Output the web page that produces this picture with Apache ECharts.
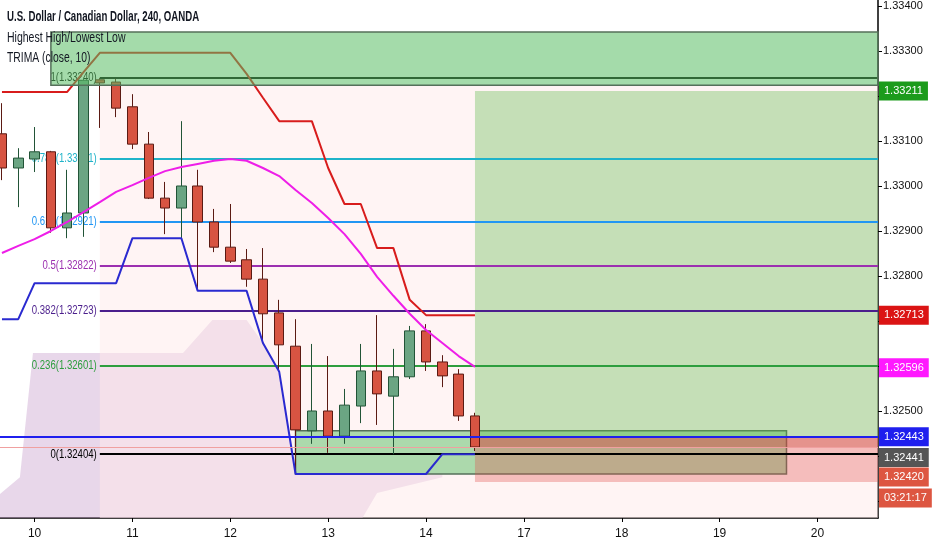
<!DOCTYPE html>
<html>
<head>
<meta charset="utf-8">
<script src="https://cdn.jsdelivr.net/npm/echarts@6/dist/echarts.min.js"></script>
<style>
  html, body { margin: 0; padding: 0; background: #fff; }
  #main { width: 932px; height: 550px; }
</style>
</head>
<body>
<div id="main"></div>
<script>
const FONT = '"Liberation Sans", Arial, sans-serif';

// 4h candles, x = bar number (bar 2 = day 10 00:00)
const candleOpen  = [1.33116,1.33040,1.33060,1.33076,1.32907,1.32940,1.33236,1.33231,1.33176,1.33093,1.32973,1.32951,1.33000,1.32920,1.32864,1.32836,1.32793,1.32718,1.32644,1.32456,1.32500,1.32444,1.32511,1.32589,1.32533,1.32576,1.32678,1.32609,1.32582,1.32489];
const candleClose = [1.33040,1.33062,1.33076,1.32907,1.32940,1.33235,1.33229,1.33173,1.33093,1.32973,1.32951,1.33000,1.32920,1.32864,1.32833,1.32793,1.32716,1.32647,1.32458,1.32500,1.32444,1.32513,1.32589,1.32538,1.32576,1.32678,1.32609,1.32578,1.32489,1.32420];
const candleLow   = [1.33013,1.32953,1.33031,1.32896,1.32884,1.32887,1.33129,1.33153,1.33082,1.32971,1.32893,1.32884,1.32769,1.32853,1.32829,1.32776,1.32651,1.32587,1.32360,1.32427,1.32407,1.32427,1.32473,1.32469,1.32404,1.32571,1.32589,1.32553,1.32478,1.32411];
const candleHigh  = [1.33184,1.33084,1.33131,1.33078,1.33036,1.33240,1.33240,1.33238,1.33204,1.33120,1.33009,1.33144,1.33036,1.32949,1.32960,1.32860,1.32862,1.32747,1.32704,1.32649,1.32622,1.32549,1.32649,1.32713,1.32638,1.32689,1.32693,1.32624,1.32593,1.32496];

// indicators
const highestHigh = [1.33209,1.33209,1.33209,1.33209,1.33209,1.33253,1.33296,1.33296,1.33296,1.33296,1.33296,1.33296,1.33296,1.33296,1.33296,1.33249,1.33196,1.33144,1.33144,1.33144,1.33040,1.32960,1.32960,1.32862,1.32862,1.32747,1.32713,1.32713,1.32713,1.32713];
const lowestLow   = [1.32704,1.32704,1.32784,1.32784,1.32784,1.32784,1.32784,1.32784,1.32884,1.32884,1.32884,1.32884,1.32767,1.32767,1.32767,1.32767,1.32651,1.32587,1.32360,1.32360,1.32360,1.32360,1.32360,1.32360,1.32360,1.32360,1.32360,1.32404,1.32404,1.32404];
const trima       = [1.32851,1.32867,1.32882,1.32900,1.32920,1.32942,1.32964,1.32987,1.33002,1.33018,1.33033,1.33042,1.33049,1.33056,1.33060,1.33056,1.33040,1.33022,1.32991,1.32962,1.32929,1.32893,1.32849,1.32798,1.32756,1.32716,1.32680,1.32651,1.32622,1.32598];

// fibonacci retracement
const fibRatios = ['1', '0.786', '0.618', '0.5', '0.382', '0.236', '0'];
const fibPrices = [1.33240, 1.33061, 1.32921, 1.32822, 1.32723, 1.32601, 1.32404];
const fibColors = ['#000000', '#1fb3c9', '#2196f3', '#9c2fb0', '#4b1e8c', '#2e9e3e', '#000000'];
const fibStartBar = 6;

// axis
const xMin = -0.12, xMax = 53.71;
const yMin = 1.322622, yMax = 1.334133;
const dayTicks  = [2, 8, 14, 20, 26, 32, 38, 44, 50];
const dayLabels = ['10', '11', '12', '13', '14', '17', '18', '19', '20'];
const priceLabels = [1.334, 1.333, 1.331, 1.330, 1.329, 1.328, 1.327, 1.325];
const priceTicks  = [1.323, 1.324, 1.325, 1.326, 1.327, 1.328, 1.329, 1.330, 1.331, 1.332, 1.333, 1.334];

// drawings (bar, price)
const rangeBoxTop    = [[3, 1.33342], [xMax, 1.33224]];
const rangeBoxBottom = [[18, 1.32456], [48.1, 1.32360]];
const paleZone       = [[6, 1.33224], [xMax, yMin]];
const entryPrice = 1.32443, targetPrice = 1.33211, stopPrice = 1.32342, lastPrice = 1.32420;
const positionStartBar = 29;
const cloudPoints = [[-0.2, 1.32313], [1.1, 1.32353], [1.9, 1.32629], [11.1, 1.32629], [12.9, 1.32702], [15.0, 1.32702], [16.0, 1.32651], [17.0, 1.32587], [18.0, 1.32360], [27.0, 1.32360], [27.0, 1.32353], [23.0, 1.32318], [22.1, yMin], [-0.2, yMin]];

// price tags on the right scale
const tagValues = [1.33211, 1.32713, 1.32596, 1.32443, 1.32441, 1.32420, 1.32420];
const tagTexts  = ['1.33211', '1.32713', '1.32596', '1.32443', '1.32441', '1.32420', '03:21:17'];
const tagColors = ['#1c9b1c', '#db1414', '#ff19ff', '#1f1fee', '#555555', '#dd5641', '#dd5641'];
const tagShift  = [0, 0, 0, 0, 20, 30, 51];

const chart = echarts.init(document.getElementById('main'));

const candleData = candleOpen.map((o, i) => [i, o, candleClose[i], candleLow[i], candleHigh[i]]);
const toXY = arr => arr.map((v, i) => [i, v]);

function box(pts, style) {
  return [{ coord: pts[0], itemStyle: style }, { coord: pts[1] }];
}

// narrow text like the tradingview font
function headerText(text, y, bold, sx) {
  return {
    type: 'text', x: 7, y: y, scaleX: sx, z: 100,
    style: { text: text, font: (bold ? 'bold ' : '') + '14px ' + FONT, fill: '#131722', verticalAlign: 'middle' }
  };
}

chart.setOption({
  animation: false,
  backgroundColor: '#ffffff',
  grid: { left: 0, right: 54, top: 0, bottom: 32 },
  xAxis: {
    type: 'value',
    min: xMin,
    max: xMax,
    axisLine: { onZero: false, lineStyle: { color: '#000', width: 1.5 } },
    axisTick: { customValues: dayTicks, length: 4, lineStyle: { color: '#000' } },
    axisLabel: {
      customValues: dayTicks,
      color: '#111',
      fontFamily: FONT,
      fontSize: 12,
      margin: 10,
      formatter: v => dayLabels[dayTicks.indexOf(v)]
    },
    splitLine: { show: false }
  },
  yAxis: {
    type: 'value',
    position: 'right',
    min: yMin,
    max: yMax,
    axisLine: { show: true, onZero: false, lineStyle: { color: '#000', width: 1.5 } },
    axisTick: { show: true, customValues: priceTicks, length: 4, lineStyle: { color: '#000' } },
    axisLabel: {
      customValues: priceLabels,
      color: '#111',
      fontFamily: FONT,
      fontSize: 11,
      margin: 5,
      formatter: v => v.toFixed(5)
    },
    splitLine: { show: false }
  },
  graphic: [
    headerText('U.S. Dollar / Canadian Dollar, 240, OANDA', 17, true, 0.69),
    headerText('Highest High/Lowest Low', 38, false, 0.75),
    headerText('TRIMA (close, 10)', 58, false, 0.74)
  ],
  series: [
    { // faint cloud
      type: 'custom',
      z: 1,
      silent: true,
      data: cloudPoints,
      renderItem: function (params, api) {
        if (params.dataIndex !== 0) return;
        return {
          type: 'polygon',
          shape: { points: cloudPoints.map(p => api.coord(p)) },
          style: { fill: 'rgba(200,160,205,0.42)' }
        };
      }
    },
    { // zones
      type: 'line',
      z: 2,
      data: [],
      markArea: {
        silent: true,
        z: 2,
        data: [
          box(paleZone, { color: 'rgba(255,234,234,0.5)' }),
          box(rangeBoxBottom, { color: 'rgba(90,190,100,0.5)', borderColor: '#55705a', borderWidth: 1.5 }),
          box([[positionStartBar, targetPrice], [xMax, entryPrice]], { color: 'rgba(95,185,75,0.36)' }),
          box([[positionStartBar, entryPrice], [xMax, stopPrice]], { color: 'rgba(225,80,75,0.33)' }),
          box([[positionStartBar, entryPrice], [xMax, lastPrice]], { color: 'rgba(200,70,55,0.35)' })
        ]
      }
    },
    { // fibonacci levels
      type: 'line',
      z: 3,
      data: [],
      markLine: {
        silent: true,
        z: 3,
        symbol: ['none', 'none'],
        label: { show: false },
        data: fibPrices.map((p, i) => [
          { coord: [fibStartBar, p], lineStyle: { color: fibColors[i], width: 2, type: 'solid' } },
          { coord: [xMax, p] }
        ])
      }
    },
    { // fibonacci labels
      type: 'custom',
      z: 3,
      silent: true,
      data: fibPrices.map(p => [fibStartBar, p]),
      renderItem: function (params, api) {
        const pt = api.coord([api.value(0), api.value(1)]);
        const i = params.dataIndex;
        return {
          type: 'text',
          x: pt[0] - 3,
          y: pt[1],
          scaleX: 0.8,
          style: {
            text: fibRatios[i] + '(' + fibPrices[i].toFixed(5) + ')',
            fill: fibColors[i],
            font: '12px ' + FONT,
            align: 'right',
            verticalAlign: 'middle'
          }
        };
      }
    },
    {
      name: 'USDCAD',
      type: 'candlestick',
      z: 4,
      barWidth: 10,
      encode: { x: 0, y: [1, 2, 3, 4] },
      data: candleData,
      itemStyle: {
        color: '#6ba583',
        color0: '#d75442',
        borderColor: '#225437',
        borderColor0: '#5b1a13',
        borderWidth: 1
      }
    },
    {
      name: 'Highest High',
      type: 'line',
      z: 5,
      symbol: 'none',
      data: toXY(highestHigh),
      lineStyle: { color: '#d81c1c', width: 2 }
    },
    {
      name: 'Lowest Low',
      type: 'line',
      z: 5,
      symbol: 'none',
      data: toXY(lowestLow),
      lineStyle: { color: '#2a2ad0', width: 2 }
    },
    {
      name: 'TRIMA',
      type: 'line',
      z: 5,
      symbol: 'none',
      data: toXY(trima),
      lineStyle: { color: '#ee1ee8', width: 2 }
    },
    { // range box above the high, tints the lines under it
      type: 'line',
      z: 6,
      data: [],
      markArea: {
        silent: true,
        z: 6,
        data: [box(rangeBoxTop, { color: 'rgba(90,190,100,0.55)', borderColor: '#55705a', borderWidth: 1.5 })]
      }
    },
    { // horizontal lines and price tags
      type: 'line',
      z: 10,
      data: [],
      markLine: {
        silent: true,
        z: 10,
        symbol: ['none', 'none'],
        data: [
          [{ coord: [xMin, entryPrice], lineStyle: { color: '#1f1fee', width: 2, type: 'solid' }, label: { show: false } }, { coord: [xMax, entryPrice] }],
          [{ coord: [xMin, lastPrice], lineStyle: { color: '#f0a0a0', width: 1, type: 'solid' }, label: { show: false } }, { coord: [xMax, lastPrice] }]
        ].concat(tagValues.map((v, i) => [
          {
            coord: [xMin, v],
            lineStyle: { color: 'rgba(0,0,0,0)', width: 0 },
            label: {
              show: true,
              position: 'end',
              distance: 1,
              offset: [0, tagShift[i]],
              formatter: tagTexts[i],
              color: '#ffffff',
              opacity: 1,
              backgroundColor: tagColors[i],
              padding: [4, 5, 4, 5],
              fontFamily: FONT,
              fontSize: 11
            }
          },
          { coord: [xMax, v] }
        ]))
      }
    }
  ]
});
</script>
</body>
</html>
